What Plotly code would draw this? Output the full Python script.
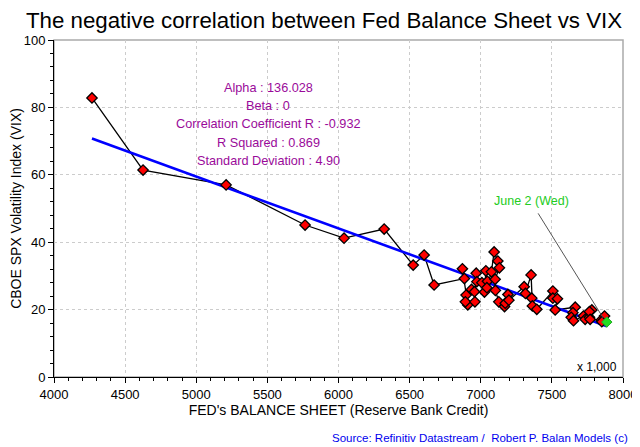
import numpy as np
import plotly.graph_objects as go

# Fed balance sheet (Reserve Bank Credit, x 1,000) and VIX, in time order (approx.)
fed_bs = [4267, 4626, 5210, 5765, 6039, 6321, 6525, 6602, 6672,
          6885, 6871, 6897, 6909, 6892, 6935, 6956, 6959, 6968, 6973,
          7008, 7026, 7036, 7047, 7043, 7075, 7094, 7120, 7131, 7101,
          7103, 7127, 7167, 7172, 7191, 7198, 7305, 7314, 7354, 7359,
          7363, 7394, 7507, 7507, 7539, 7523, 7664, 7648, 7636, 7652,
          7722, 7734, 7764, 7781, 7764, 7769, 7847, 7870, 7851, 7886]
vix = [82.8, 61.4, 57.0, 45.1, 41.2, 43.9, 33.2, 36.2, 27.3,
       29.2, 32.1, 24.3, 21.4, 22.3, 26.0, 25.3, 22.3, 30.8, 28.3,
       28.0, 25.2, 31.5, 28.4, 26.5, 31.2, 37.1, 34.4, 32.4, 29.0,
       25.7, 22.3, 20.9, 21.9, 24.5, 22.8, 26.8, 24.8, 30.3, 23.4,
       21.1, 20.1, 25.5, 23.4, 23.2, 19.9, 20.7, 19.1, 17.7, 16.7,
       18.1, 17.1, 17.7, 19.9, 19.4, 17.1, 16.9, 18.1, 16.4, 16.3]

stats_lines = ["Alpha : 136.028", "Beta : 0", "Correlation Coefficient R : -0.932",
               "R Squared : 0.869", "Standard Deviation : 4.90"]
last_label = "June 2 (Wed)"

x = np.array(fed_bs, dtype=float)
y = np.array(vix, dtype=float)
slope, intercept = np.polyfit(x, y, 1)
xr = np.array([x.min(), x.max()])
yr = intercept + slope * xr

FONT = "Liberation Sans, Arial"

fig = go.Figure()
fig.add_trace(go.Scatter(x=fed_bs, y=vix, mode="lines", line=dict(color="black", width=1.3),
                         hoverinfo="skip", showlegend=False))
fig.add_trace(go.Scatter(x=xr, y=yr, mode="lines", line=dict(color="#0000ff", width=2.6),
                         showlegend=False))
fig.add_trace(go.Scatter(x=fed_bs[:-1], y=vix[:-1], mode="markers",
                         marker=dict(symbol="diamond", size=8, color="#ff0000",
                                     line=dict(color="black", width=1.3)),
                         showlegend=False))
fig.add_trace(go.Scatter(x=fed_bs[-1:], y=vix[-1:], mode="markers",
                         marker=dict(symbol="diamond", size=8, color="#22dd22",
                                     line=dict(color="#22aa22", width=1)),
                         showlegend=False))

# statistics box, one line per annotation (spacing matched to the reference)
for i, line in enumerate(stats_lines):
    fig.add_annotation(x=5505, y=85.8 - 5.42 * i, xref="x", yref="y", yanchor="middle",
                       text=line, showarrow=False, align="center",
                       font=dict(family=FONT, size=12.7, color="#9a0a9a"))

fig.add_annotation(x=fed_bs[-1] - 25, y=vix[-1] + 1.2, ax=7397, ay=49, axref="x", ayref="y",
                   xref="x", yref="y", text="", showarrow=True, arrowhead=0,
                   arrowwidth=1, arrowcolor="#555555")
fig.add_annotation(x=7355, y=52.2, xref="x", yref="y", text=last_label, showarrow=False,
                   yanchor="middle", font=dict(family=FONT, size=12.5, color="#22cc22"))
fig.add_annotation(x=1, y=0, xref="paper", yref="paper", xanchor="right", yanchor="bottom",
                   xshift=-4, yshift=1, text="x 1,000", showarrow=False,
                   font=dict(family=FONT, size=12, color="black"))
fig.add_annotation(x=1, y=0, xref="paper", yref="paper", xanchor="right", yanchor="middle",
                   xshift=7, yshift=-61,
                   text="Source: Refinitiv Datastream /  Robert P. Balan Models (c)",
                   showarrow=False,
                   font=dict(family=FONT, size=11.5, color="#0000ee"))

fig.add_shape(type="rect", xref="paper", yref="paper", x0=0, y0=0, x1=1, y1=1,
              line=dict(color="#aaaaaa", width=1.5), layer="below")

# The page body has an 8px margin, so the figure is 8px smaller and left/top margins shifted.
fig.update_layout(
    width=632, height=439,
    margin=dict(l=46, r=17, t=32, b=70, autoexpand=False),
    paper_bgcolor="white", plot_bgcolor="white",
    title=dict(text="The negative correlation between Fed Balance Sheet vs VIX",
               x=0.5, xanchor="center", y=0.9727, yanchor="middle", automargin=False,
               font=dict(family=FONT, size=22.3, color="black")),
    font=dict(family=FONT, size=13, color="black"),
    xaxis=dict(range=[4000, 8000], dtick=500, tick0=4000, showgrid=True,
               gridcolor="#cccccc", griddash="dot", gridwidth=1,
               showline=True, linecolor="black", linewidth=1,
               ticks="outside", ticklen=5, tickcolor="black", automargin=False,
               minor=dict(dtick=100, ticks="outside", ticklen=3, tickcolor="black"),
               zeroline=False,
               title=dict(text="FED's BALANCE SHEET (Reserve Bank Credit)", standoff=4,
                          font=dict(size=14)),
               tickfont=dict(size=13)),
    yaxis=dict(range=[0, 100], dtick=20, showgrid=True,
               gridcolor="#cccccc", griddash="dot", gridwidth=1,
               showline=True, linecolor="black", linewidth=1,
               ticks="outside", ticklen=5, tickcolor="black", automargin=False,
               minor=dict(dtick=4, ticks="outside", ticklen=3, tickcolor="black"),
               zeroline=False,
               title=dict(text="CBOE SPX Volatility Index (VIX)", standoff=6,
                          font=dict(size=14)),
               tickfont=dict(size=13)),
)

fig.write_html("out.html")
